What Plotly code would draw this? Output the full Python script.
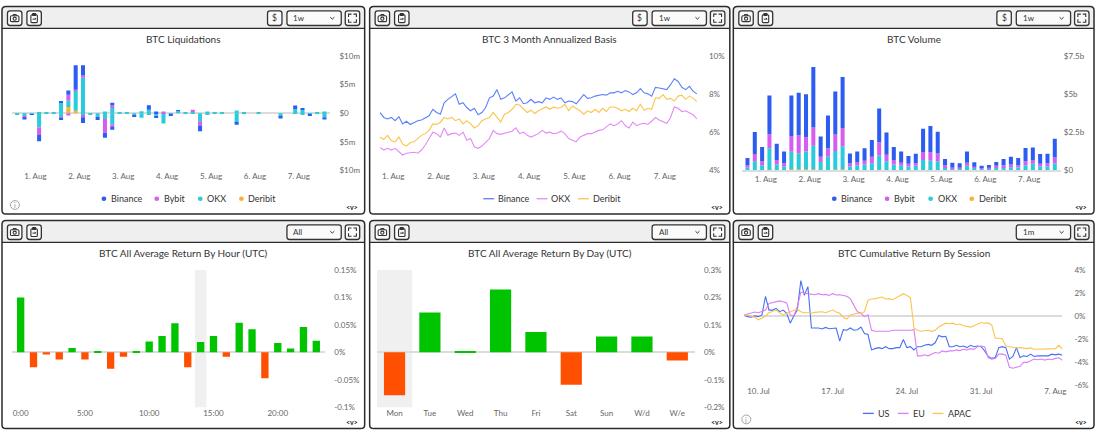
import plotly.graph_objects as go
import pandas as pd

W, H = 1100, 435
FONT = "Lato"

# ---------------- data ----------------
exchanges = ["Binance", "Bybit", "OKX", "Deribit"]
bar_colors = {"Binance": "#2d5cf2", "Bybit": "#d45ef0", "OKX": "#2ccbdb", "Deribit": "#f8b431"}

# liquidations, $m, 4h buckets (positive = shorts, negative = longs)
liq_times = pd.date_range("2023-07-31 14:00", periods=43, freq="4h")
liq_binance_pos = [0, 0, 0, 0, 0, 0, 0.2, 0.75, 4.2, 1.8,
                   0, 0, 0, 0.5, 0, 0, 0, 0, 0.8, 0.3,
                   0, 0, 0.1, 0, 0, 0, 0, 0, 0, 0,
                   0, 0, 0, 0, 0, 0, 0, 0, 0.6, 0.15,
                   0, 0, 0]
liq_bybit_pos = [0, 0, 0, 0, 0, 0, 0, 1.0, 0.25, 0.4,
                 0, 0, 0, 0.45, 0, 0, 0, 0, 0, 0,
                 0.3, 0, 0, 0, 0.4, 0, 0, 0, 0, 0,
                 0, 0, 0, 0, 0, 0, 0, 0, 0, 0,
                 0, 0, 0]
liq_okx_pos = [0, 0, 0, 0.2, 0.15, 0.05, 1.8, 1.15, 3.5, 6.2,
               0, 0, 0.3, 0.9, 0.05, 0.05, 0, 0.35, 0.6, 0,
               0, 0, 0.45, 0.05, 0.2, 0, 0.3, 0.05, 0.05, 0,
               0.5, 0.1, 0, 0.05, 0, 0, 0, 0, 0.75, 0.6,
               0, 0.1, 0.3]
liq_deribit_pos = [0, 0, 0, 0, 0, 0, 0, 1.1, 0.45, 0,
                   0, 0, 0, 0, 0, 0, 0, 0, 0, 0,
                   0, 0, 0, 0, 0, 0, 0, 0, 0, 0,
                   0, 0, 0, 0, 0, 0, 0, 0, 0, 0,
                   0, 0, 0]
liq_binance_neg = [0, -0.4, -0.1, -1.1, 0, 0, -0.2, 0, 0, -1.0,
                   0, -0.6, -0.9, -0.5, 0, 0, -0.2, 0, 0, -0.3,
                   0, -0.15, 0, 0, 0, -1.0, 0, 0, 0, 0,
                   -0.3, 0, 0, 0, 0, 0, -0.3, 0, 0, 0,
                   -0.1, 0, -0.4]
liq_bybit_neg = [0, -0.2, 0, -1.3, 0, 0, -0.3, -0.4, 0, -0.4,
                 0, 0, -2.4, -0.4, 0, 0, 0, 0, 0, 0,
                 0, 0, 0, 0, 0, -0.75, 0, 0, 0, 0,
                 0, 0, 0, 0, 0, 0, 0, 0, 0, 0,
                 0, 0, 0]
liq_okx_neg = [-0.3, -0.5, -0.2, -2.5, 0, 0, -0.7, 0, 0, -0.3,
               -0.2, -0.6, -1.0, -2.0, 0, 0, -0.4, -0.8, -0.3, -0.5,
               -1.8, -0.3, 0, 0, 0, -1.4, -0.3, 0, 0, 0,
               -1.7, 0, 0, 0, 0, 0, -0.6, 0, -0.1, -0.2,
               -0.3, 0, -0.7]
liq_deribit_neg = [0] * 43
liq_ticks = [-10, -5, 0, 5, 10]
liq_tick_text = ["$10m", "$5m", "$0", "$5m", "$10m"]

# 3 month annualized basis, %, 2h samples
basis_times = pd.date_range("2023-07-31 17:00", periods=85, freq="2h")
basis_binance = [7.04, 6.78, 6.70, 6.78, 6.61, 6.82, 6.44, 6.58, 6.41, 6.53,
                 6.61, 6.65, 6.78, 6.87, 7.21, 7.04, 6.95, 7.55, 7.73, 7.90,
                 8.02, 7.47, 7.55, 7.30, 7.13, 7.26, 6.92, 7.04, 7.30, 7.81,
                 7.90, 8.24, 7.73, 7.81, 7.95, 8.12, 7.64, 7.81, 7.50, 7.55,
                 7.73, 7.55, 7.61, 7.55, 7.81, 7.73, 7.85, 7.73, 7.81, 7.55,
                 7.64, 7.61, 7.50, 7.73, 7.98, 7.78, 7.81, 7.90, 7.95, 7.98,
                 7.95, 8.07, 8.07, 8.15, 8.07, 8.19, 8.12, 7.98, 8.07, 8.29,
                 8.07, 8.02, 7.90, 8.36, 8.33, 8.29, 8.24, 8.50, 8.81, 8.67,
                 8.36, 8.24, 8.41, 8.15, 8.02]
basis_okx = [5.21, 5.07, 5.16, 5.07, 5.16, 4.98, 4.81, 4.90, 4.93, 4.95,
             4.90, 5.07, 5.33, 5.67, 6.01, 5.93, 5.75, 6.23, 5.84, 5.93,
             5.96, 5.84, 6.01, 5.58, 5.67, 5.24, 5.16, 5.28, 5.50, 5.67,
             6.10, 5.93, 5.89, 5.96, 6.01, 6.06, 6.23, 5.93, 6.01, 5.84,
             5.75, 5.84, 5.93, 6.10, 5.96, 6.01, 5.93, 5.96, 6.06, 5.93,
             5.67, 5.58, 5.50, 5.75, 5.84, 5.93, 5.93, 6.01, 6.10, 6.13,
             6.27, 6.44, 6.35, 6.44, 6.61, 6.35, 6.23, 6.53, 6.35, 6.44,
             6.47, 6.41, 6.58, 6.78, 6.65, 6.58, 6.47, 6.78, 7.33, 7.26,
             7.09, 7.13, 7.04, 6.92, 6.70]
basis_deribit = [5.75, 5.62, 5.84, 5.55, 5.50, 5.75, 5.38, 5.28, 5.45, 5.50,
                 5.67, 5.84, 5.93, 6.10, 6.44, 6.41, 6.53, 6.78, 6.70, 6.78,
                 6.61, 6.70, 6.44, 6.61, 6.44, 6.23, 6.35, 6.61, 6.70, 6.78,
                 7.04, 6.78, 6.53, 6.95, 7.04, 7.21, 7.47, 7.43, 7.26, 7.04,
                 7.16, 6.99, 7.13, 7.21, 7.33, 7.21, 7.33, 7.26, 7.30, 7.47,
                 7.13, 7.38, 7.26, 7.13, 6.95, 7.13, 7.04, 7.21, 7.04, 7.26,
                 7.09, 7.33, 7.33, 7.26, 7.13, 7.21, 7.09, 7.26, 7.13, 7.47,
                 7.16, 7.26, 7.21, 7.81, 7.78, 7.98, 7.73, 7.78, 7.64, 7.90,
                 7.95, 7.73, 7.90, 7.78, 7.61]
basis_ticks = [4, 6, 8, 10]
basis_tick_text = ["4%", "6%", "8%", "10%"]

# volume, $b, 4h buckets
vol_binance = [0.45, 1.45, 0.94, 2.54, 1.07, 0.77, 2.65, 2.78, 2.82, 3.97,
               1.32, 2.16, 2.82, 3.35, 0.64, 0.68, 0.81, 1.10, 2.22, 1.45,
               0.86, 0.73, 0.51, 0.62, 1.54, 1.71, 1.43, 0.41, 0.30, 0.26,
               0.73, 0.27, 0.13, 0.17, 0.26, 0.41, 0.52, 0.47, 0.87, 0.82,
               0.64, 0.62, 1.22]
vol_bybit = [0.15, 0.47, 0.26, 0.92, 0.30, 0.21, 1.04, 1.18, 0.94, 1.20,
             0.34, 0.55, 1.07, 1.20, 0.21, 0.22, 0.26, 0.43, 0.86, 0.43,
             0.30, 0.21, 0.17, 0.17, 0.52, 0.56, 0.51, 0.13, 0.08, 0.08,
             0.21, 0.09, 0.08, 0.06, 0.13, 0.13, 0.17, 0.15, 0.26, 0.25,
             0.17, 0.21, 0.38]
vol_okx = [0.21, 0.60, 0.34, 1.40, 0.38, 0.26, 1.15, 1.06, 1.17, 1.54,
           0.56, 0.90, 1.22, 1.51, 0.26, 0.34, 0.38, 0.47, 0.93, 0.60,
           0.38, 0.30, 0.26, 0.30, 0.68, 0.64, 0.60, 0.21, 0.13, 0.13,
           0.30, 0.17, 0.09, 0.13, 0.17, 0.21, 0.21, 0.19, 0.34, 0.43,
           0.26, 0.26, 0.47]
vol_deribit = [0, 0, 0, 0.05, 0, 0, 0.07, 0.07, 0.07, 0.08,
               0, 0, 0.06, 0.07, 0, 0, 0, 0, 0.05, 0,
               0, 0, 0, 0, 0, 0, 0, 0, 0, 0,
               0, 0, 0, 0, 0, 0, 0, 0, 0, 0,
               0, 0, 0]
vol_ticks = [0, 2.5, 5, 7.5]
vol_tick_text = ["$0", "$2.5b", "$5b", "$7.5b"]

# average return by hour (UTC), %
hours = list(range(24))
hour_returns = [0.100, -0.027, -0.004, -0.013, 0.008, -0.013, 0.002, -0.030, -0.008, 0.001,
                0.020, 0.030, 0.053, -0.027, 0.019, 0.030, -0.008, 0.054, 0.042, -0.047,
                0.017, 0.007, 0.046, 0.021]
hour_ticks = [0, 5, 10, 15, 20]
hour_tick_text = ["0:00", "5:00", "10:00", "15:00", "20:00"]
hour_y_ticks = [-0.1, -0.05, 0, 0.05, 0.1, 0.15]
hour_y_text = ["-0.1%", "-0.05%", "0%", "0.05%", "0.1%", "0.15%"]

# average return by day (UTC), %
days = ["Mon", "Tue", "Wed", "Thu", "Fri", "Sat", "Sun", "W/d", "W/e"]
day_returns = [-0.156, 0.145, 0.005, 0.229, 0.074, -0.118, 0.058, 0.058, -0.030]
day_y_ticks = [-0.2, -0.1, 0, 0.1, 0.2, 0.3]
day_y_text = ["-0.2%", "-0.1%", "0%", "0.1%", "0.2%", "0.3%"]

# cumulative return by session, %, 8h samples
sess_times = pd.date_range("2023-07-08 16:00", periods=91, freq="8h")
sess_us = [0.09, -0.06, -0.11, 0.00, -0.06, 0.09, 1.71, 0.51, 0.51, 0.66,
           0.37, 0.51, 0.23, -0.63, 0.00, 0.51, 3.08, 1.79, 2.56, -1.05,
           -1.05, -1.05, -1.14, -1.00, -1.11, -1.05, -1.05, -2.19, -1.20, -1.25,
           -1.05, -1.25, -1.20, -0.97, -1.54, -1.62, -2.96, -2.85, -2.76, -2.85,
           -2.68, -2.85, -2.85, -2.76, -2.76, -2.05, -2.76, -2.68, -2.96, -2.68,
           -2.68, -2.56, -2.48, -2.56, -2.34, -1.71, -1.82, -1.77, -2.68, -2.68,
           -2.56, -2.68, -2.62, -2.76, -2.56, -2.68, -2.62, -2.68, -3.05, -3.53,
           -3.70, -3.62, -2.76, -2.68, -2.76, -3.76, -3.53, -2.76, -3.62, -3.48,
           -3.53, -3.33, -3.53, -3.48, -3.48, -3.42, -3.48, -3.33, -3.39, -3.33,
           -3.42]
sess_eu = [0.09, 0.17, 0.23, 0.34, 0.28, 0.37, 0.51, 1.08, 1.14, 1.23,
           1.31, 1.23, 1.14, 0.09, 0.00, 0.80, 2.08, 1.99, 1.94, 1.88,
           1.85, 1.94, 1.85, 1.88, 1.79, 1.94, 1.82, 1.85, 1.79, 1.71,
           1.51, 0.94, 0.37, 0.23, -0.06, 0.09, -1.25, -1.34, -1.34, -1.28,
           -1.28, -1.34, -1.25, -1.25, -1.31, -1.25, -1.31, -1.25, -1.20, -3.48,
           -3.48, -3.39, -3.48, -3.33, -3.19, -3.25, -3.05, -3.13, -3.05, -3.05,
           -2.96, -3.02, -2.91, -2.96, -2.85, -2.91, -2.68, -2.62, -2.68, -3.65,
           -3.76, -3.70, -3.33, -3.33, -3.42, -4.47, -4.56, -4.47, -4.39, -4.05,
           -4.05, -3.90, -3.76, -3.82, -3.76, -3.85, -3.76, -3.82, -3.70, -3.65,
           -3.87]
sess_apac = [0.09, 0.06, 0.00, -0.11, -0.34, -0.20, 0.00, 0.28, 0.37, 0.51,
             0.28, 0.09, 0.23, 0.37, 0.51, 0.60, 0.37, 0.28, 0.28, 0.23,
             0.31, 0.34, 0.37, 0.28, 0.37, 0.51, 0.34, 0.23, -0.11, -0.28,
             0.09, 0.17, 0.23, 0.23, 0.37, 1.37, 1.48, 1.51, 1.60, 1.65,
             1.48, 1.51, 1.42, 1.60, 1.79, 1.94, 1.79, 1.60, -1.05, -1.25,
             -1.34, -1.31, -1.25, -1.34, -1.25, -0.97, -0.80, -0.63, -0.68, -0.63,
             -0.77, -0.71, -0.85, -0.91, -0.97, -0.85, -0.68, -0.57, -0.63, -0.63,
             -0.77, -1.94, -1.94, -1.99, -2.62, -2.68, -2.68, -2.79, -2.76, -2.79,
             -2.85, -2.79, -2.91, -2.91, -2.91, -2.91, -2.91, -2.85, -2.85, -2.56,
             -2.91]
sess_ticks = [-6, -4, -2, 0, 2, 4]
sess_tick_text = ["-6%", "-4%", "-2%", "0%", "2%", "4%"]

GREEN = "#00c400"
RED = "#ff4f00"
line_colors = {"Binance": "#5b80fa", "OKX": "#e48af6", "Deribit": "#fbc44c",
               "US": "#4670f4", "EU": "#dc7ef4", "APAC": "#fbc44c"}


# ---------------- helpers ----------------
def fx(px):
    return px / W


def fy(py):
    return 1 - py / H


def rrect(x0, y0, x1, y1, r, top_only=False):
    p = f"M{fx(x0 + r)},{fy(y0)} L{fx(x1 - r)},{fy(y0)} Q{fx(x1)},{fy(y0)} {fx(x1)},{fy(y0 + r)} "
    if top_only:
        p += f"L{fx(x1)},{fy(y1)} L{fx(x0)},{fy(y1)} "
    else:
        p += (f"L{fx(x1)},{fy(y1 - r)} Q{fx(x1)},{fy(y1)} {fx(x1 - r)},{fy(y1)} "
              f"L{fx(x0 + r)},{fy(y1)} Q{fx(x0)},{fy(y1)} {fx(x0)},{fy(y1 - r)} ")
    p += f"L{fx(x0)},{fy(y0 + r)} Q{fx(x0)},{fy(y0)} {fx(x0 + r)},{fy(y0)} Z"
    return p


shapes = []
annotations = []


def path(p, color="#333", width=1.2, fill=None, layer="above"):
    d = dict(type="path", path=p, xref="paper", yref="paper", layer=layer,
             line=dict(color=color, width=width))
    if fill:
        d["fillcolor"] = fill
    shapes.append(d)


def seg(x0, y0, x1, y1, color="#333", width=1.2):
    shapes.append(dict(type="line", xref="paper", yref="paper",
                       x0=fx(x0), y0=fy(y0), x1=fx(x1), y1=fy(y1),
                       line=dict(color=color, width=width)))


def circle(cx, cy, r, color, fill=None, width=1):
    shapes.append(dict(type="circle", xref="paper", yref="paper",
                       x0=fx(cx - r), x1=fx(cx + r), y0=fy(cy + r), y1=fy(cy - r),
                       line=dict(color=color, width=width),
                       fillcolor=fill if fill else "rgba(0,0,0,0)"))


def text(x, y, s, size=9, color="#333", xanchor="center", family=FONT):
    annotations.append(dict(x=fx(x), y=fy(y), xref="paper", yref="paper", text=s,
                            showarrow=False, xanchor=xanchor, yanchor="middle",
                            font=dict(size=size, color=color, family=family)))


def panel(L, T, R, B, title, dropdown=None, dollar=False, info=False):
    hb = T + 22.5
    path(rrect(L, T, R, hb, 4, top_only=True), color="rgba(0,0,0,0)", width=0, fill="#efefef", layer="below")
    path(rrect(L, T, R, B, 4), color="#2b2b2b", width=1.5)
    seg(L, hb, R, hb, color="#2b2b2b", width=1.3)
    iy0, iy1 = T + 4.5, T + 19.5
    # camera
    cx0 = L + 5.5
    path(rrect(cx0, iy0, cx0 + 14.5, iy1, 2.5), fill="#fafafa", width=1.3)
    path(rrect(cx0 + 3, iy0 + 5, cx0 + 11.5, iy0 + 11, 1.2), width=1.1)
    path(f"M{fx(cx0 + 5.3)},{fy(iy0 + 5)} L{fx(cx0 + 6)},{fy(iy0 + 3.8)} L{fx(cx0 + 8.5)},{fy(iy0 + 3.8)} L{fx(cx0 + 9.2)},{fy(iy0 + 5)}", width=1.1)
    circle(cx0 + 7.25, iy0 + 8, 1.6, "#333", width=1.1)
    # clipboard
    bx0 = L + 25
    path(rrect(bx0, iy0, bx0 + 14.5, iy1, 2.5), fill="#fafafa", width=1.3)
    path(rrect(bx0 + 4, iy0 + 4, bx0 + 10.5, iy0 + 12, 1), width=1.1)
    path(rrect(bx0 + 5.6, iy0 + 2.8, bx0 + 8.9, iy0 + 4.8, 0.6), width=1.1, fill="#333")
    seg(bx0 + 5.6, iy0 + 8.5, bx0 + 9, iy0 + 8.5, width=1)
    seg(bx0 + 7.8, iy0 + 7.2, bx0 + 9, iy0 + 8.5, width=1)
    # fullscreen
    fx0, fx1 = R - 19.5, R - 5
    path(rrect(fx0, iy0, fx1, iy1, 2.5), fill="#fafafa", width=1.3)
    a, m = 3, 3.3
    for (px, py, sx, sy) in [(fx0 + m, iy0 + m, 1, 1), (fx1 - m, iy0 + m, -1, 1),
                             (fx0 + m, iy1 - m, 1, -1), (fx1 - m, iy1 - m, -1, -1)]:
        path(f"M{fx(px)},{fy(py + sy * a)} L{fx(px)},{fy(py)} L{fx(px + sx * a)},{fy(py)}", width=1.1)
    # dropdown
    if dropdown:
        d0, d1 = R - 78, R - 23.5
        path(rrect(d0, iy0, d1, iy1, 2.5), fill="#fafafa", width=1.3)
        text(d0 + 4.5, (iy0 + iy1) / 2, dropdown, size=8, xanchor="left")
        path(f"M{fx(d1 - 11)},{fy(iy0 + 6.5)} L{fx(d1 - 9)},{fy(iy0 + 8.5)} L{fx(d1 - 7)},{fy(iy0 + 6.5)}", width=1)
    if dollar:
        s0, s1 = R - 97.5, R - 83
        path(rrect(s0, iy0, s1, iy1, 2.5), fill="#fafafa", width=1.3)
        text((s0 + s1) / 2, (iy0 + iy1) / 2, "$", size=8.5)
    text((L + R) / 2, T + 33, title, size=10, color="#333")
    text(R - 13, B - 7, "<b>&lt;v&gt;</b>", size=7, color="#222")
    if info:
        circle(L + 13, B - 9.3, 4.5, "#9a9a9a", width=0.9)
        text(L + 13, B - 9.2, "i", size=7, color="#8a8a8a")


def bullet_legend(items, y):
    for name, color, x in items:
        circle(x, y, 2.4, color, fill=color, width=0)
        text(x + 5, y, name, size=9, color="#333", xanchor="left")


def line_legend(items, y):
    for name, color, x in items:
        seg(x, y, x + 11, y, color=color, width=1.3)
        text(x + 13, y, name, size=9, color="#333", xanchor="left")


# ---------------- panels ----------------
TOP, BOT = (1.5, 214), (220.5, 433.5)
COLS = [(2, 366), (371, 732.5), (736, 1098)]
panel(COLS[0][0], TOP[0], COLS[0][1], TOP[1], "BTC Liquidations", dropdown="1w", dollar=True, info=True)
panel(COLS[1][0], TOP[0], COLS[1][1], TOP[1], "BTC 3 Month Annualized Basis", dropdown="1w", dollar=True)
panel(COLS[2][0], TOP[0], COLS[2][1], TOP[1], "BTC Volume", dropdown="1w", dollar=True)
panel(COLS[0][0], BOT[0], COLS[0][1], BOT[1], "BTC All Average Return By Hour (UTC)", dropdown="All")
panel(COLS[1][0], BOT[0], COLS[1][1], BOT[1], "BTC All Average Return By Day (UTC)", dropdown="All")
panel(COLS[2][0], BOT[0], COLS[2][1], BOT[1], "BTC Cumulative Return By Session", dropdown="1m", info=True)

bullet_legend([(n, bar_colors[n], x) for n, x in zip(exchanges, [104.3, 157.3, 201, 242.3])], 198.3)
bullet_legend([(n, bar_colors[n], x + 733) for n, x in zip(exchanges, [104.3, 157.3, 201, 242.3])], 198.3)
line_legend([(n, line_colors[n], x) for n, x in zip(["Binance", "OKX", "Deribit"], [485, 538.5, 580])], 198.3)
line_legend([(n, line_colors[n], x) for n, x in zip(["US", "EU", "APAC"], [866, 901, 936])], 418)

fig = go.Figure()

# liquidations
BW4H = 0.55 * 4 * 3600 * 1000
liq_series = [("Deribit", liq_deribit_pos, liq_deribit_neg), ("OKX", liq_okx_pos, liq_okx_neg),
              ("Bybit", liq_bybit_pos, liq_bybit_neg), ("Binance", liq_binance_pos, liq_binance_neg)]
for name, pos, neg in liq_series:
    for vals in (pos, neg):
        fig.add_trace(go.Bar(x=liq_times, y=vals, name=name, marker_color=bar_colors[name],
                             marker_line_width=0, width=BW4H, xaxis="x", yaxis="y", showlegend=False))

# basis
for name, vals in [("Binance", basis_binance), ("OKX", basis_okx), ("Deribit", basis_deribit)]:
    fig.add_trace(go.Scatter(x=basis_times, y=vals, name=name, mode="lines",
                             line=dict(color=line_colors[name], width=1.1),
                             xaxis="x2", yaxis="y2", showlegend=False))

# volume
for name, vals in [("Deribit", vol_deribit), ("OKX", vol_okx), ("Bybit", vol_bybit), ("Binance", vol_binance)]:
    fig.add_trace(go.Bar(x=liq_times, y=vals, name=name, marker_color=bar_colors[name],
                         marker_line_width=0, width=BW4H, xaxis="x3", yaxis="y3", showlegend=False))

# by hour
fig.add_trace(go.Bar(x=hours, y=hour_returns, width=0.57, marker_line_width=0,
                     marker_color=[GREEN if v >= 0 else RED for v in hour_returns],
                     xaxis="x4", yaxis="y4", showlegend=False))

# by day
fig.add_trace(go.Bar(x=days, y=day_returns, width=0.6, marker_line_width=0,
                     marker_color=[GREEN if v >= 0 else RED for v in day_returns],
                     xaxis="x5", yaxis="y5", showlegend=False))

# sessions
for name, vals in [("US", sess_us), ("EU", sess_eu), ("APAC", sess_apac)]:
    fig.add_trace(go.Scatter(x=sess_times, y=vals, name=name, mode="lines",
                             line=dict(color=line_colors[name], width=1.1),
                             xaxis="x6", yaxis="y6", showlegend=False))

# highlight bands
shapes.append(dict(type="rect", xref="x4", yref="y4 domain", x0=13.55, x1=14.45, y0=0, y1=1,
                   fillcolor="#f0f0f0", line_width=0, layer="below"))
shapes.append(dict(type="rect", xref="x5", yref="y5 domain", x0=-0.5, x1=0.5, y0=0, y1=1,
                   fillcolor="#f0f0f0", line_width=0, layer="below"))

tick_font = dict(size=8, color="#666", family=FONT)


def xax(x0, x1, **kw):
    d = dict(domain=[fx(x0), fx(x1)], showgrid=False, zeroline=False, showline=False,
             ticks="", tickfont=tick_font, fixedrange=True)
    d.update(kw)
    return d


def yax(y_top, y_bot, anchor, standoff, **kw):
    d = dict(domain=[fy(y_bot), fy(y_top)], anchor=anchor, side="right", showgrid=False,
             zeroline=True, zerolinecolor="#dcdcdc", zerolinewidth=1.5, showline=False,
             ticks="", tickfont=tick_font, ticklabelstandoff=standoff, fixedrange=True)
    d.update(kw)
    return d


date_kw = dict(type="date", tickformat="%-d. %b", dtick=86400000, tick0="2023-08-01")

fig.update_layout(
    width=W, height=H, margin=dict(l=0, r=0, t=0, b=0),
    paper_bgcolor="white", plot_bgcolor="rgba(0,0,0,0)",
    font=dict(family=FONT), barmode="relative", showlegend=False,
    xaxis=xax(11.7, 331.7, anchor="y", range=["2023-07-31 11:00", "2023-08-07 17:18"], **date_kw),
    yaxis=yax(52.3, 169.3, "x", 8, range=[-10, 10], tickvals=liq_ticks, ticktext=liq_tick_text),
    xaxis2=xax(381.4, 699.5, anchor="y2", range=["2023-07-31 17:00", "2023-08-07 17:00"], **date_kw),
    yaxis2=yax(52.3, 169.3, "x2", 11, range=[4, 10], tickvals=basis_ticks, ticktext=basis_tick_text,
               zeroline=False),
    xaxis3=xax(744.7, 1064.7, anchor="y3", range=["2023-07-31 11:00", "2023-08-07 17:18"],
               showline=True, linecolor="#dcdcdc", linewidth=1.5, **date_kw),
    yaxis3=yax(52.3, 169.3, "x3", 2, range=[0, 7.5], tickvals=vol_ticks, ticktext=vol_tick_text,
               zeroline=False),
    xaxis4=xax(11.7, 326.5, anchor="y4", range=[-0.7, 23.7], tickvals=hour_ticks, ticktext=hour_tick_text),
    yaxis4=yax(271.3, 411.7, "x4", 8, range=[-0.1, 0.15], tickvals=hour_y_ticks, ticktext=hour_y_text),
    xaxis5=xax(378.25, 697.5, anchor="y5", type="category", range=[-0.5, 8.5]),
    yaxis5=yax(271.3, 411.7, "x5", 8, range=[-0.2, 0.3], tickvals=day_y_ticks, ticktext=day_y_text),
    xaxis6=xax(747, 1066.3, anchor="y6", type="date", range=["2023-07-08 16:00", "2023-08-07 16:00"],
               tickformat="%-d. %b", dtick=7 * 86400000, tick0="2023-07-10"),
    yaxis6=yax(271.3, 388.7, "x6", 11, range=[-6, 4], tickvals=sess_ticks, ticktext=sess_tick_text,
               zerolinewidth=2),
    shapes=shapes, annotations=annotations,
)

fig.write_html("out.html", config={"displayModeBar": False},
               post_script="document.body.style.margin='0';document.body.style.overflow='hidden';")
